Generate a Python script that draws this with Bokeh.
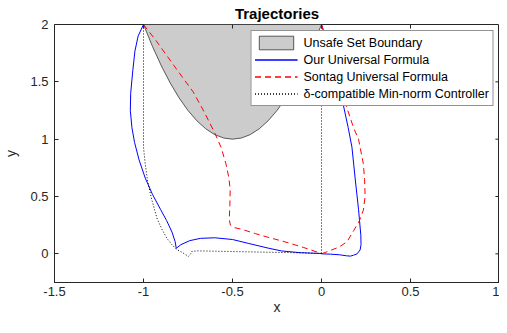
from bokeh.plotting import figure
from bokeh.models import FixedTicker, CustomJSTickFormatter, Range1d
from bokeh.embed import file_html
from bokeh.resources import INLINE

# ---------------- data ----------------
x_ticks = [-1.5, -1, -0.5, 0, 0.5, 1]
x_tick_labels = ["-1.5", "-1", "-0.5", "0", "0.5", "1"]
y_ticks = [0, 0.5, 1, 1.5, 2]
y_tick_labels = ["0", "0.5", "1", "1.5", "2"]

unsafe_x = [-1.0, -0.95, -0.9, -0.85, -0.8, -0.75, -0.7, -0.65, -0.6, -0.55, -0.5,
            -0.45, -0.4, -0.35, -0.3, -0.25, -0.2, -0.15, -0.1, -0.05, 0.0]
unsafe_y = [2.0, 1.81, 1.64, 1.49, 1.36, 1.25, 1.16, 1.09, 1.04, 1.01, 1.0,
            1.01, 1.04, 1.09, 1.16, 1.25, 1.36, 1.49, 1.64, 1.81, 2.0]

ours_left_x = [-1.0, -1.03, -1.048, -1.06, -1.072, -1.074, -1.065, -1.05, -1.025, -0.99,
               -0.95, -0.905, -0.87, -0.84, -0.822, -0.816, -0.79, -0.74, -0.68, -0.6,
               -0.5, -0.408, -0.3, -0.224, -0.12, 0.0]
ours_left_y = [2.0, 1.9, 1.77, 1.6, 1.4, 1.25, 1.1, 0.97, 0.82, 0.66,
               0.52, 0.389, 0.29, 0.19, 0.105, 0.048, 0.08, 0.115, 0.135, 0.14,
               0.125, 0.09, 0.05, 0.025, 0.01, 0.003]
ours_right_x = [0.0, 0.03, 0.07, 0.1, 0.125, 0.15, 0.171, 0.19, 0.208, 0.221,
                0.222, 0.217, 0.2, 0.18, 0.162, 0.14, 0.1, 0.051, 0.0]
ours_right_y = [2.0, 1.85, 1.65, 1.47, 1.28, 1.1, 0.93, 0.644, 0.389, 0.162,
                0.08, 0.034, 0.0, -0.012, -0.02, -0.017, -0.008, -0.003, 0.0]

sontag_left_x = [-1.0, -0.93, -0.868, -0.8, -0.72, -0.66, -0.6, -0.564, -0.537, -0.52,
                 -0.513, -0.515, -0.518, -0.512, -0.5, -0.45, -0.371, -0.29, -0.206, -0.1, 0.0]
sontag_left_y = [2.0, 1.86, 1.726, 1.58, 1.41, 1.24, 1.055, 0.928, 0.786, 0.66,
                 0.559, 0.42, 0.3, 0.25, 0.232, 0.215, 0.176, 0.14, 0.105, 0.055, 0.003]
sontag_right_x = [0.0, 0.04, 0.08, 0.115, 0.143, 0.18, 0.208, 0.235, 0.242, 0.245,
                  0.235, 0.213, 0.18, 0.143, 0.1, 0.051, 0.0]
sontag_right_y = [2.0, 1.8, 1.6, 1.42, 1.27, 1.1, 1.0, 0.786, 0.65, 0.5,
                  0.38, 0.289, 0.2, 0.105, 0.06, 0.03, 0.0]

minnorm_left_x = [-1.0, -1.0, -0.99, -0.978, -0.955, -0.923, -0.895, -0.868, -0.84, -0.816,
                  -0.78, -0.748, -0.735, -0.73, -0.7, -0.5, -0.3, -0.1, 0.0]
minnorm_left_y = [2.0, 0.93, 0.78, 0.644, 0.48, 0.304, 0.21, 0.134, 0.08, 0.04,
                  0.01, -0.023, 0.0, 0.02, 0.026, 0.02, 0.014, 0.008, 0.003]
minnorm_right_x = [0.0, 0.0]
minnorm_right_y = [2.0, 0.0]

# ---------------- figure ----------------
FONT = "Liberation Sans"
TXT = "#262626"
X_MIN, X_MAX, Y_MIN, Y_MAX = -1.5, 1, -0.25, 2

p = figure(width=499, height=317, output_backend="svg", toolbar_location=None,
           x_range=Range1d(X_MIN, X_MAX), y_range=Range1d(Y_MIN, Y_MAX),
           title="Trajectories",
           min_border_left=44, min_border_right=0, min_border_top=16, min_border_bottom=30)
p.title.align = "center"
p.title.text_font = FONT
p.title.text_font_size = "15px"
p.title.text_font_style = "bold"
p.title.text_color = "#000000"
p.title.standoff = 5
p.title.offset = 0
p.grid.visible = False
p.outline_line_color = TXT
p.outline_line_width = 1

red = "#ff0000"
blue = "#0000ff"

p.patch(unsafe_x, unsafe_y, fill_color="#cccccc", line_color="#333333", line_width=0.8,
        legend_label="Unsafe Set Boundary")
p.line(ours_left_x, ours_left_y, line_color=blue, line_width=1, legend_label="Our Universal Formula")
p.line(ours_right_x, ours_right_y, line_color=blue, line_width=1, legend_label="Our Universal Formula")
p.line(sontag_left_x, sontag_left_y, line_color=red, line_width=1, line_dash="6 4",
       legend_label="Sontag Universal Formula")
p.line(sontag_right_x, sontag_right_y, line_color=red, line_width=1, line_dash="6 4",
       legend_label="Sontag Universal Formula")
p.line(minnorm_left_x, minnorm_left_y, line_color="#000000", line_width=1, line_dash="1 2",
       legend_label="δ-compatible Min-norm Controller")
p.line(minnorm_right_x, minnorm_right_y, line_color="#000000", line_width=1, line_dash="1 2",
       legend_label="δ-compatible Min-norm Controller")

# inward ticks on the top and right edges of the box (MATLAB "box on")
tick_len_y = 0.035 * (Y_MAX - Y_MIN) / 2.25
tick_len_x = 0.023 * (X_MAX - X_MIN) / 2.5
inner_x = [t for t in x_ticks if X_MIN < t < X_MAX]
inner_y = [t for t in y_ticks if Y_MIN < t < Y_MAX]
p.segment(x0=inner_x, y0=[Y_MAX] * len(inner_x), x1=inner_x, y1=[Y_MAX - tick_len_y] * len(inner_x),
          line_color=TXT, line_width=1)
p.segment(x0=[X_MAX] * len(inner_y), y0=inner_y, x1=[X_MAX - tick_len_x] * len(inner_y), y1=inner_y,
          line_color=TXT, line_width=1)

fmt_code = "const i = tvals.findIndex(t => Math.abs(t - tick) < 1e-9); return i >= 0 ? tlabels[i] : '';"

def style_axis(ax):
    ax.axis_line_color = TXT
    ax.major_tick_line_color = TXT
    ax.major_tick_in = 4
    ax.major_tick_out = 0
    ax.minor_tick_line_color = None
    ax.major_label_text_font = FONT
    ax.major_label_text_font_size = "13px"
    ax.major_label_text_color = TXT
    ax.axis_label_text_font = FONT
    ax.axis_label_text_font_size = "14px"
    ax.axis_label_text_font_style = "normal"
    ax.axis_label_text_color = TXT

xax = p.xaxis[0]
xax.ticker = FixedTicker(ticks=x_ticks)
xax.formatter = CustomJSTickFormatter(args=dict(tvals=x_ticks, tlabels=x_tick_labels), code=fmt_code)
xax.axis_label = "x"
xax.major_label_standoff = 4
xax.axis_label_standoff = 0
style_axis(xax)

yax = p.yaxis[0]
yax.ticker = FixedTicker(ticks=y_ticks)
yax.formatter = CustomJSTickFormatter(args=dict(tvals=y_ticks, tlabels=y_tick_labels), code=fmt_code)
yax.axis_label = "y"
yax.major_label_standoff = 6
yax.axis_label_standoff = 8
style_axis(yax)

lg = p.legend[0]
lg.location = "top_right"
lg.margin = 6
lg.padding = 3
lg.spacing = 0
lg.glyph_width = 43
lg.glyph_height = 17
lg.label_height = 17
lg.label_standoff = 6
lg.label_text_font = FONT
lg.label_text_font_size = "12.5px"
lg.label_text_color = "#000000"
lg.border_line_color = TXT
lg.border_line_width = 1
lg.background_fill_alpha = 1

open("out.html", "w").write(file_html(p, INLINE))
